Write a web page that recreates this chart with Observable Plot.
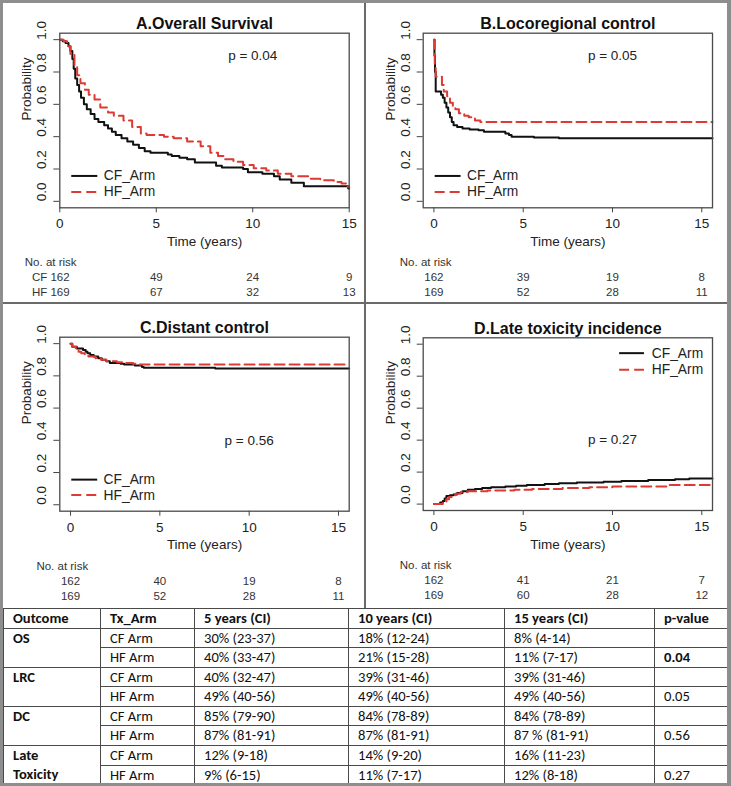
<!DOCTYPE html>
<html><head><meta charset="utf-8">
<script src="https://cdn.jsdelivr.net/npm/d3@7"></script>
<script src="https://cdn.jsdelivr.net/npm/@observablehq/plot@0.6"></script>
<style>
html,body{margin:0;padding:0;}
body{width:731px;height:786px;background:#8e8e8e;position:relative;overflow:hidden;font-family:"Liberation Sans",Arial,sans-serif;}
#sheet{position:absolute;left:3px;top:3px;width:724px;height:780px;background:#fff;overflow:hidden;}
.panel{position:absolute;}
.panel svg{display:block;overflow:visible;}
.vline{position:absolute;left:361px;top:0;width:2px;height:605px;background:#6a6a6a;z-index:2;}
.hline{position:absolute;left:0;top:299px;width:724px;height:2px;background:#6a6a6a;z-index:2;}
#tbl{position:absolute;left:0;top:605px;border-collapse:collapse;table-layout:fixed;width:724px;
  font-family:Carlito,Calibri,Lato,sans-serif;font-size:14.6px;color:#111;}
#tbl td{border:1px solid #4a4a4a;height:18.5px;padding:0 0 0 9px;line-height:18.5px;vertical-align:middle;white-space:nowrap;overflow:hidden;}
#tbl td.b{font-weight:bold;}
#tbl td.o{vertical-align:top;white-space:normal;padding-right:26px;line-height:19.5px;}
</style>
</head><body>
<div id="sheet">
  <div class="panel" id="pA" style="left:0;top:0"></div>
  <div class="panel" id="pB" style="left:362px;top:0"></div>
  <div class="panel" id="pC" style="left:0;top:301px"></div>
  <div class="panel" id="pD" style="left:362px;top:301px"></div>
  <div class="vline"></div><div class="hline"></div>
  <table id="tbl"></table>
</div>
<script>
// ---------- data ----------
const yTicks = [0, 0.2, 0.4, 0.6, 0.8, 1.0];
const xTicks = [0, 5, 10, 15];
const armNames = ["CF_Arm", "HF_Arm"];

const osCF = [[0,1],[0.15,0.99],[0.3,0.98],[0.45,0.96],[0.55,0.93],[0.65,0.88],[0.72,0.82],[0.8,0.76],[0.9,0.72],[1.0,0.68],[1.1,0.64],[1.25,0.6],[1.4,0.57],[1.6,0.54],[1.8,0.51],[2.0,0.49],[2.3,0.47],[2.5,0.45],[2.7,0.43],[2.9,0.41],[3.2,0.39],[3.5,0.37],[3.8,0.35],[4.1,0.33],[4.4,0.31],[4.7,0.30],[5.6,0.29],[5.8,0.28],[6.2,0.27],[6.6,0.26],[7.0,0.24],[8.1,0.22],[8.4,0.21],[9.5,0.20],[9.75,0.18],[10.5,0.17],[11.1,0.155],[11.4,0.135],[12.0,0.115],[12.65,0.093],[14.95,0.08],[15,0.08]];
const osHF = [[0,1],[0.2,0.99],[0.38,0.96],[0.55,0.91],[0.76,0.83],[0.9,0.78],[1.07,0.73],[1.3,0.69],[1.5,0.66],[1.8,0.63],[2.1,0.58],[2.5,0.55],[2.8,0.53],[3.3,0.50],[3.75,0.46],[4.2,0.42],[4.5,0.41],[5.4,0.40],[5.9,0.39],[6.6,0.37],[7.3,0.34],[7.8,0.30],[8.2,0.28],[8.5,0.26],[9.0,0.245],[9.5,0.225],[10.05,0.205],[10.7,0.19],[11.3,0.17],[12.0,0.155],[13.0,0.14],[13.5,0.13],[14.2,0.12],[14.6,0.11],[14.9,0.09],[15,0.09]];

const lrcCF = [[0,1],[0.03,0.9],[0.06,0.8],[0.1,0.68],[0.4,0.66],[0.5,0.64],[0.6,0.61],[0.7,0.58],[0.8,0.55],[0.9,0.52],[1.0,0.49],[1.1,0.47],[1.3,0.46],[1.6,0.45],[2.0,0.445],[2.5,0.44],[2.8,0.43],[4.0,0.42],[4.2,0.41],[4.35,0.40],[5.6,0.395],[7.0,0.39],[15.6,0.39]];
const lrcHF = [[0,1],[0.05,0.85],[0.1,0.77],[0.45,0.72],[0.55,0.68],[0.74,0.65],[0.9,0.61],[1.06,0.59],[1.2,0.57],[1.4,0.545],[1.7,0.53],[1.95,0.52],[2.3,0.50],[2.6,0.49],[15.6,0.49]];

const dcCF = [[0,1],[0.1,0.98],[0.35,0.97],[0.7,0.96],[0.85,0.95],[0.95,0.94],[1.1,0.93],[1.3,0.92],[1.55,0.91],[1.75,0.90],[2.0,0.89],[2.2,0.88],[2.8,0.875],[3.0,0.87],[3.6,0.865],[4.0,0.855],[4.1,0.85],[8.1,0.845],[15.6,0.845]];
const dcHF = [[0,1],[0.1,0.98],[0.3,0.97],[0.45,0.95],[0.6,0.94],[0.8,0.93],[1.0,0.92],[1.4,0.91],[1.7,0.90],[2.0,0.89],[2.6,0.885],[3.0,0.88],[3.5,0.875],[3.8,0.87],[15.6,0.87]];

const toxCF = [[0,0],[0.35,0.01],[0.5,0.02],[0.6,0.035],[0.7,0.05],[0.9,0.055],[1.1,0.06],[1.3,0.07],[1.6,0.08],[1.9,0.09],[2.3,0.095],[2.7,0.10],[3.2,0.105],[4.0,0.11],[4.6,0.115],[5.2,0.12],[6.2,0.125],[7.0,0.13],[8.0,0.135],[9.5,0.14],[10.5,0.145],[12.0,0.15],[13.5,0.155],[14.3,0.16],[15.6,0.16]];
const toxHF = [[0,0],[0.5,0.01],[0.7,0.03],[0.85,0.045],[1.0,0.055],[1.2,0.065],[1.5,0.075],[1.9,0.08],[3.0,0.085],[4.5,0.09],[5.5,0.095],[7.2,0.10],[8.7,0.105],[10.0,0.11],[13.2,0.12],[15.6,0.12]];

const riskA = [["CF 162","49","24","9"],["HF 169","67","32","13"]];
const riskB = [["162","39","19","8"],["169","52","28","11"]];
const riskC = [["162","40","19","8"],["169","52","28","11"]];
const riskD = [["162","41","21","7"],["169","60","28","12"]];

const titles = ["A.Overall Survival","B.Locoregional control","C.Distant control","D.Late toxicity incidence"];
const pLabels = ["p = 0.04","p = 0.05","p = 0.56","p = 0.27"];

const outcomes = ["OS","LRC","DC","Late Toxicity"];
const txArms = ["CF Arm","HF Arm"];
const yr5 = [["30% (23-37)","40% (33-47)"],["40% (32-47)","49% (40-56)"],["85% (79-90)","87% (81-91)"],["12% (9-18)","9% (6-15)"]];
const yr10 = [["18% (12-24)","21% (15-28)"],["39% (31-46)","49% (40-56)"],["84% (78-89)","87% (81-91)"],["14% (9-20)","11% (7-17)"]];
const yr15 = [["8% (4-14)","11% (7-17)"],["39% (31-46)","49% (40-56)"],["84% (78-89)","87 % (81-91)"],["16% (11-23)","12% (8-18)"]];
const pValues = ["0.04","0.05","0.56","0.27"];
const headers = ["Outcome","Tx_Arm","5 years (CI)","10 years (CI)","15 years (CI)","p-value"];

// ---------- drawing ----------
const FONT = "Liberation Sans, Arial, sans-serif";
const RED = "#dd3a33";
const toPts = a => a.map(([t, s]) => ({t, s}));

function kmPanel(o) {
  const cf = toPts(o.cf), hf = toPts(o.hf);
  const riskRows = [];
  o.risk.forEach((row, r) => row.forEach((n, k) => riskRows.push({t: xTicks[k], n, r})));
  const lg = o.legend;
  return Plot.plot({
    width: 362, height: o.height,
    marginLeft: o.m[0], marginRight: o.m[1], marginTop: o.m[2], marginBottom: o.m[3],
    style: {fontFamily: FONT, color: "#222", background: "transparent", overflow: "visible"},
    x: {domain: o.xDomain},
    y: {domain: [-0.04, 1.04]},
    marks: [
      Plot.axisY({ticks: yTicks, tickSize: 6, tickFormat: () => "", label: null, stroke: "#444"}),
      Plot.text(yTicks, {y: d => d, text: d => d3.format(".1f")(d), frameAnchor: "left", dx: -18, rotate: -90, fontSize: 13.5, fill: "#222"}),
      Plot.axisX({ticks: xTicks, tickSize: 5, tickPadding: 6, fontSize: 13.5, label: null, stroke: "#444"}),
      Plot.text(["Time (years)"], {frameAnchor: "bottom", dy: 38, fontSize: 13.5, fill: "#222"}),
      Plot.text(["Probability"], {frameAnchor: "left", dx: -33, rotate: -90, fontSize: 13.5, fill: "#222"}),
      Plot.text([o.title], {frameAnchor: "top", dy: -15.5, fontSize: 16, fontWeight: "bold", fill: "#111"}),
      Plot.line(cf, {x: "t", y: "s", curve: "step-after", stroke: "#111", strokeWidth: 2}),
      Plot.line(hf, {x: "t", y: "s", curve: "step-after", stroke: RED, strokeWidth: 2, strokeDasharray: "10,5"}),
      Plot.text([o.p], {x: 10, y: o.pY, fontSize: 13.5, fill: "#222"}),
      Plot.ruleY([lg.y[0]], {x1: lg.x1, x2: lg.x2, stroke: "#111", strokeWidth: 2}),
      Plot.ruleY([lg.y[1]], {x1: lg.x1, x2: lg.x2, stroke: RED, strokeWidth: 2, strokeDasharray: "10,5"}),
      Plot.text(armNames, {x: lg.tx, y: (d, i) => lg.y[i], textAnchor: "start", fontSize: 13.8, fill: "#222"}),
      Plot.text(["No. at risk"], {frameAnchor: "bottom-left", dx: o.riskDx, dy: 58.5, textAnchor: "start", fontSize: 11.5, fill: "#333"}),
      Plot.text(riskRows.filter(d => d.r === 0), {x: "t", text: "n", frameAnchor: "bottom", dy: 73.5, fontSize: 11.5, fill: "#333"}),
      Plot.text(riskRows.filter(d => d.r === 1), {x: "t", text: "n", frameAnchor: "bottom", dy: 88.5, fontSize: 11.5, fill: "#333"}),
      Plot.frame({stroke: "#4a4a4a", strokeWidth: 1.3})
    ]
  });
}

const A = kmPanel({
  title: titles[0], cf: osCF, hf: osHF, xDomain: [0, 15], p: pLabels[0], pY: 0.9,
  risk: riskA, riskDx: -35,
  legend: {x1: 0.62, x2: 1.97, tx: 2.28, y: [0.157, 0.058]},
  height: 300, m: [56.3, 16.3, 29.7, 95.7]
});
document.getElementById("pA").append(A);
// shift the first at-risk column of panel A left (labels "CF 162"/"HF 169")
d3.select(A).selectAll("text").filter(function() { return /^(CF|HF) 1\d\d$/.test(this.textContent); })
  .attr("transform", function() { return (d3.select(this).attr("transform") || "") + " translate(-9,0)"; });

document.getElementById("pB").append(kmPanel({
  title: titles[1], cf: lrcCF, hf: lrcHF, xDomain: [-0.6, 15.6], p: pLabels[1], pY: 0.9,
  risk: riskB, riskDx: -23.4,
  legend: {x1: 0.07, x2: 1.52, tx: 1.85, y: [0.157, 0.058]},
  height: 300, m: [57.7, 15, 29.7, 95.7]
}));
document.getElementById("pC").append(kmPanel({
  title: titles[2], cf: dcCF, hf: dcHF, xDomain: [-0.6, 15.6], p: pLabels[2], pY: 0.4,
  risk: riskC, riskDx: -23.4,
  legend: {x1: 0.07, x2: 1.52, tx: 1.85, y: [0.156, 0.06]},
  height: 303, m: [56.3, 16.3, 32.7, 96.3]
}));
document.getElementById("pD").append(kmPanel({
  title: titles[3], cf: toxCF, hf: toxHF, xDomain: [-0.6, 15.6], p: pLabels[3], pY: 0.4,
  risk: riskD, riskDx: -23.4,
  legend: {x1: 10.4, x2: 11.79, tx: 12.2, y: [0.944, 0.84]},
  height: 303, m: [57.7, 15, 33.3, 97]
}));

// ---------- table ----------
const tbl = d3.select("#tbl");
const cg = tbl.append("colgroup");
[97, 94, 154, 156, 150, 73].forEach(w => cg.append("col").style("width", w + "px"));
const hr = tbl.append("tr");
headers.forEach(h => hr.append("td").attr("class", "b").text(h));
outcomes.forEach((oc, i) => {
  txArms.forEach((arm, j) => {
    const tr = tbl.append("tr");
    if (j === 0) tr.append("td").attr("class", "b o").attr("rowspan", 2).text(oc);
    tr.append("td").text(arm);
    tr.append("td").text(yr5[i][j]);
    tr.append("td").text(yr10[i][j]);
    tr.append("td").text(yr15[i][j]);
    const pc = tr.append("td").text(j === 1 ? pValues[i] : "");
    if (j === 1 && i === 0) pc.attr("class", "b");
  });
});
</script>
</body></html>
